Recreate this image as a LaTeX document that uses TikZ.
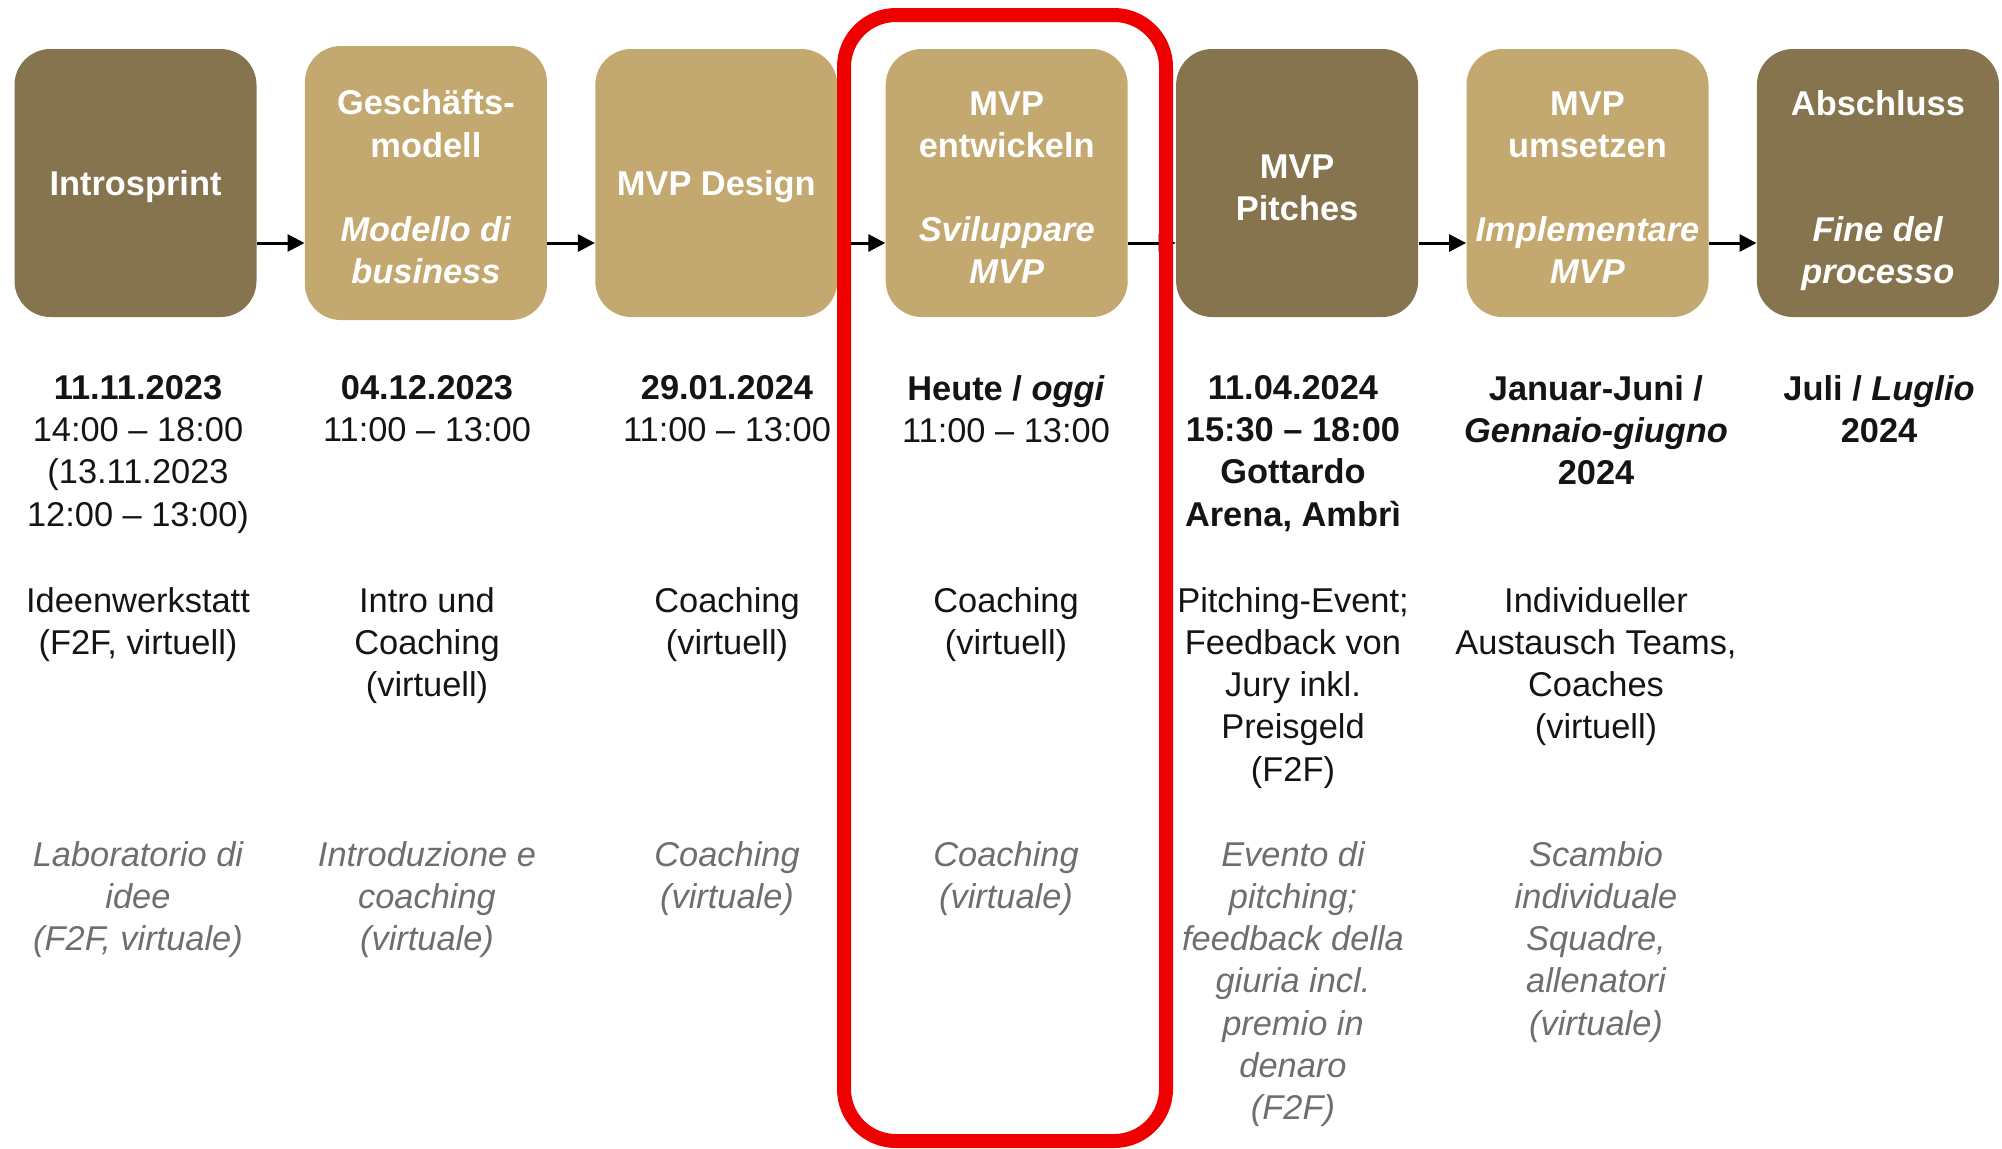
\documentclass[tikz,border=0pt]{standalone}
\usepackage{fontspec}
\setmainfont{Liberation Sans}
\usetikzlibrary{arrows.meta}
\definecolor{darkgold}{HTML}{85744D}
\definecolor{lightgold}{HTML}{C3A86F}
\definecolor{ink}{HTML}{141414}
\definecolor{greytext}{HTML}{6E6E6E}
\definecolor{hilite}{HTML}{EE0000}
\newcommand{\lift}{\rule{0pt}{16.5pt}}

\begin{document}
\begin{tikzpicture}[x=0.5pt,y=-0.5pt,>={Triangle[length=8.5pt,width=8.5pt]},node distance=145.2pt,
    phase node/.style={rectangle,rounded corners=18pt,minimum width=121pt,minimum height=134pt,inner sep=2pt,align=center,text=white,font=\bfseries\fontsize{17.2}{21.1}\selectfont},
    dark/.style={fill=darkgold},
    light/.style={fill=lightgold},
    info node/.style={anchor=north,inner sep=0pt,align=center,text=ink,font=\fontsize{17.2}{21.1}\selectfont},
    ital node/.style={info node,text=greytext,font=\itshape\fontsize{17.2}{21.1}\selectfont},
    hilite frame/.style={draw=hilite,line width=7pt,rounded corners=26pt,inner sep=0pt}]
                \useasboundingbox (0,0) rectangle (2002,1148);

                \node[phase node,dark] (1) at (135.5,183) {\lift Introsprint};
                \node[phase node,light,minimum height=137pt] (2) [right of=1] {\lift Geschäfts-\\modell\\~\\\textit{Modello di}\\\textit{business}};
                \node[phase node,light] (3) [right of=2] {\lift MVP Design};
                \node[phase node,light] (4) [right of=3] {\lift MVP\\entwickeln\\~\\\textit{Sviluppare}\\\textit{MVP}};
                \node[phase node,dark] (5) [right of=4] {\lift MVP\\Pitches};
                \node[phase node,light] (6) [right of=5] {\lift MVP\\umsetzen\\~\\\textit{Implementare}\\\textit{MVP}};
                \node[phase node,dark] (7) [right of=6] {\rule{0pt}{20pt}Abschluss\\~\\~\\\textit{Fine del}\\\textit{processo}};

                % dates
                \node[info node] (1a) at (138,375) {\textbf{11.11.2023}\\14:00 – 18:00\\(13.11.2023\\12:00 – 13:00)};
                \node[info node] (2a) at (427,375) {\textbf{04.12.2023}\\11:00 – 13:00};
                \node[info node] (3a) at (727,375) {\textbf{29.01.2024}\\11:00 – 13:00};
                \node[info node] (4a) at (1006,375) {\textbf{Heute / \textit{oggi}}\\11:00 – 13:00};
                \node[info node] (5a) at (1293,375) {\textbf{11.04.2024}\\\textbf{15:30 – 18:00}\\\textbf{Gottardo}\\\textbf{Arena, Ambrì}};
                \node[info node] (6a) at (1596,375) {\textbf{Januar-Juni /}\\\textbf{\textit{Gennaio-giugno}}\\\textbf{2024}};
                \node[info node] (7a) at (1879,375) {\textbf{Juli / \textit{Luglio}}\\\textbf{2024}};

                % german
                \node[info node] (1b) at (138,587) {Ideenwerkstatt\\(F2F, virtuell)};
                \node[info node] (2b) at (427,587) {Intro und\\Coaching\\(virtuell)};
                \node[info node] (3b) at (727,587) {Coaching\\(virtuell)};
                \node[info node] (4b) at (1006,587) {Coaching\\(virtuell)};
                \node[info node] (5b) at (1293,587) {Pitching-Event;\\Feedback von\\Jury inkl.\\Preisgeld\\(F2F)};
                \node[info node] (6b) at (1596,587) {Individueller\\Austausch Teams,\\Coaches\\(virtuell)};

                % italian
                \node[ital node] (1c) at (138,841) {Laboratorio di\\idee\\(F2F, virtuale)};
                \node[ital node] (2c) at (427,841) {Introduzione e\\coaching\\(virtuale)};
                \node[ital node] (3c) at (727,841) {Coaching\\(virtuale)};
                \node[ital node] (4c) at (1006,841) {Coaching\\(virtuale)};
                \node[ital node] (5c) at (1293,841) {Evento di\\pitching;\\feedback della\\giuria incl.\\premio in\\denaro\\(F2F)};
                \node[ital node] (6c) at (1596,841) {Scambio\\individuale\\Squadre,\\allenatori\\(virtuale)};

                \path[->,line width=1.5pt]
                    [color=black]
                    ([yshift=-30pt]1.east) edge ([yshift=-30pt]2.west)
                    ([yshift=-30pt]2.east) edge ([yshift=-30pt]3.west)
                    ([yshift=-30pt]3.east) edge ([yshift=-30pt]4.west)
                    ([yshift=-30pt]4.east) edge ([yshift=-30pt]5.west)
                    ([yshift=-30pt]5.east) edge ([yshift=-30pt]6.west)
                    ([yshift=-30pt]6.east) edge ([yshift=-30pt]7.west)
                ;

                \node[hilite frame,minimum width=161pt,minimum height=563pt] (frame) at (1005,578) {};
            \end{tikzpicture}
\end{document}
